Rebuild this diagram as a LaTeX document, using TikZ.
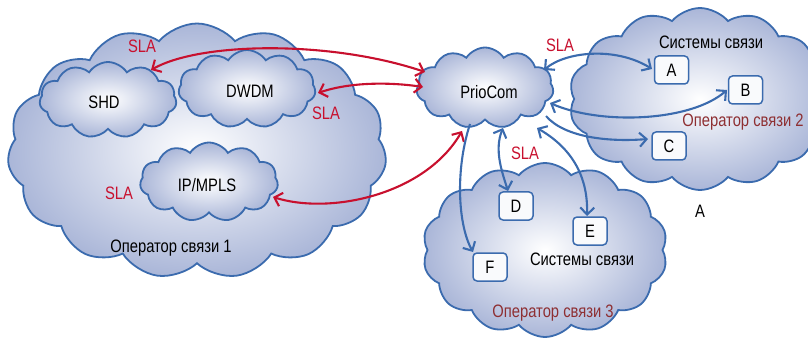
\documentclass[tikz,border=0pt]{standalone}
\usepackage{fontspec}
\usepackage{graphicx}
\setmainfont{Liberation Sans}
\usetikzlibrary{shapes.symbols,arrows.meta}
\definecolor{cborder}{HTML}{3B6BAE}
\definecolor{cfill}{HTML}{AAB6D8}
\definecolor{cred}{HTML}{C8102E}
\definecolor{cmaroon}{HTML}{8E2F32}
\newcommand{\nx}[1]{\scalebox{0.82}[1]{#1}}
\tikzset{
  cloudbox/.style={cloud, cloud ignores aspect, draw=cborder, line width=1.8pt,
    shade, shading=radial, inner color=white, outer color=cfill, inner sep=0pt},
  sysbox/.style={draw=cborder, line width=1.5pt, rounded corners=4pt, fill=white!93!cfill,
    minimum width=34pt, minimum height=28pt, inner sep=0pt, font=\fontsize{18}{18}\selectfont},
  lbl/.style={font=\fontsize{18}{18}\selectfont, inner sep=0pt},
  slalbl/.style={lbl, text=cred},
  redarr/.style={draw=cred, line width=2.1pt, {Straight Barb[length=7pt,width=14pt]}-{Straight Barb[length=7pt,width=14pt]}},
  bluearr/.style={draw=cborder, line width=2.1pt, {Straight Barb[length=7pt,width=14pt]}-{Straight Barb[length=7pt,width=14pt]}},
  bluearrone/.style={draw=cborder, line width=2.1pt, -{Straight Barb[length=7pt,width=14pt]}},
}
\begin{document}
\begin{tikzpicture}[x=1pt,y=-1pt]
\useasboundingbox (0,0) rectangle (808,339);
% clouds
\node[cloudbox, cloud puffs=15, cloud puff arc=100, minimum width=379pt, minimum height=255pt] (op1) at (197,151) {};
\node[cloudbox, cloud puffs=11, cloud puff arc=115, minimum width=137pt, minimum height=76pt] (shd) at (108,100) {};
\node[cloudbox, cloud puffs=11, cloud puff arc=115, minimum width=137pt, minimum height=78pt] (dwdm) at (247,89) {};
\node[cloudbox, cloud puffs=11, cloud puff arc=115, minimum width=138pt, minimum height=79pt] (ipm) at (209,182) {};
\node[cloudbox, cloud puffs=14, cloud puff arc=100, minimum width=262pt, minimum height=182pt] (op2) at (700,99) {};
\node[cloudbox, cloud puffs=14, cloud puff arc=100, minimum width=245pt, minimum height=174pt] (op3) at (545,250) {};
\node[cloudbox, cloud puffs=11, cloud puff arc=115, minimum width=137pt, minimum height=81pt] (prio) at (485,88) {};
% texts in clouds
\node[lbl] (tshd) at (104,102) {\nx{SHD}};
\node[lbl] (tdwdm) at (250,91) {\nx{DWDM}};
\node[lbl] (tipm) at (207,185) {\nx{IP/MPLS}};
\node[lbl] (tprio) at (489,92) {\nx{PrioCom}};
\node[lbl] (top1) at (171,248) {\nx{Оператор связи 1}};
\node[lbl] (tsys2) at (711,42) {\nx{Системы связи}};
\node[lbl, text=cmaroon] (top2) at (743,122) {\nx{Оператор связи 2}};
\node[lbl] (tsys3) at (582,259) {\nx{Системы связи}};
\node[lbl, text=cmaroon] (top3) at (553,313) {\nx{Оператор связи 3}};
\node[lbl] (tA) at (700,211) {\nx{A}};
% boxes
\node[sysbox] (A) at (671.5,70) {\nx{A}};
\node[sysbox] (B) at (745.5,90) {\nx{B}};
\node[sysbox] (C) at (669,146) {\nx{C}};
\node[sysbox] (D) at (516,206) {\nx{D}};
\node[sysbox] (E) at (590,231) {\nx{E}};
\node[sysbox] (F) at (490,267) {\nx{F}};
% anchor points
\coordinate (r1a) at (151,70);
\coordinate (r1b) at (425,72);
\coordinate (r2a) at (318,93);
\coordinate (r2b) at (423,87);
\coordinate (r3a) at (273,197);
\coordinate (r3b) at (462,131);
\coordinate (bAa) at (544,70);
\coordinate (bAb) at (652,69);
\coordinate (bBa) at (550,103);
\coordinate (bBb) at (727,90);
\coordinate (bCa) at (546,116);
\coordinate (bCb) at (648,139);
\coordinate (bDa) at (503,128);
\coordinate (bDb) at (508,191);
\coordinate (bEa) at (537,128);
\coordinate (bEb) at (587,216);
\coordinate (bFa) at (470,124);
\coordinate (bFb) at (473,252);
% red arrows
\draw[redarr] (r1a) .. controls (200,42) and (330,40) .. (r1b);
\draw[redarr] (r2a) .. controls (350,82) and (390,82) .. (r2b);
\draw[redarr] (r3a) .. controls (330,215) and (425,195) .. (r3b);
% blue arrows
\draw[bluearr] (bAa) .. controls (565,52) and (615,46) .. (bAb);
\draw[bluearr] (bBa) .. controls (600,125) and (690,122) .. (bBb);
\draw[bluearrone] (bCa) .. controls (565,138) and (610,142) .. (bCb);
\draw[bluearr] (bDa) .. controls (494,150) and (502,172) .. (bDb);
\draw[bluearr] (bEa) .. controls (575,150) and (588,180) .. (bEb);
\draw[bluearrone] (bFa) .. controls (455,170) and (458,225) .. (bFb);
% SLA labels
\node[slalbl] (s1) at (142,46) {\nx{SLA}};
\node[slalbl] (s2) at (326,113) {\nx{SLA}};
\node[slalbl] (s3) at (119,193) {\nx{SLA}};
\node[slalbl] (s4) at (560,45) {\nx{SLA}};
\node[slalbl] (s5) at (525,153) {\nx{SLA}};
\end{tikzpicture}
\end{document}
